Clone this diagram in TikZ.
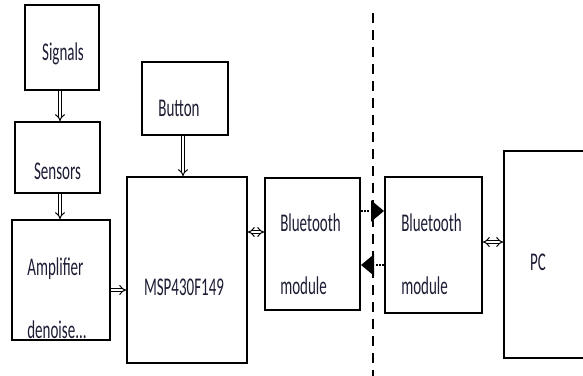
\documentclass[tikz,border=0pt]{standalone}
\usepackage{fontspec}
\setmainfont{Carlito}
\usetikzlibrary{arrows.meta}
\definecolor{txt}{RGB}{28,28,52}
\newcommand{\vs}[1]{\scalebox{1}[1.7]{#1}}
\newcommand{\twol}[2]{\scalebox{1}[1.7]{\begin{tabular}{@{}l@{}}#1\\[19pt]#2\end{tabular}}}
\begin{document}
\begin{tikzpicture}[x=1pt,y=-1pt,
  box/.style={draw=black,line width=2pt,inner sep=0pt},
  lbl/.style={font=\fontsize{15}{18}\selectfont,text=txt,inner sep=0pt},
  dbl/.style={draw=black,double=white,double distance=2.4pt,line width=1pt,-{Implies}},
  dbltwo/.style={draw=black,double=white,double distance=2.4pt,line width=1pt,{Implies}-{Implies}},
  wl/.style={draw=black,line width=2.2pt,dash pattern=on 1.6pt off 1.6pt,-{Triangle[length=13pt,width=21pt]}},
  sep/.style={draw=black,line width=1.6pt,dash pattern=on 10pt off 7pt}]
\useasboundingbox (0,0) rectangle (583,375);
\clip (0,0) rectangle (583,375);
\node[box,minimum width=74pt,minimum height=85pt,label={[lbl,yshift=-6pt,xshift=1pt]center:\vs{Signals}}] (sig) at (62,47.5) {};
\node[box,minimum width=85pt,minimum height=71pt,label={[lbl,yshift=-14pt]center:\vs{Sensors}}] (sen) at (57.5,157.5) {};
\node[box,minimum width=98pt,minimum height=120pt,label={[lbl,yshift=-21pt,xshift=-4pt]center:\twol{Amplifier}{denoise...}}] (amp) at (61,280) {};
\node[box,minimum width=86pt,minimum height=73pt,label={[lbl,yshift=-10pt,xshift=-6pt]center:\vs{Button}}] (btn) at (185,98.5) {};
\node[box,minimum width=120pt,minimum height=186pt,label={[lbl,yshift=-17pt,xshift=-3pt]center:\vs{MSP430F149}}] (msp) at (187,270) {};
\node[box,minimum width=95pt,minimum height=132pt,label={[lbl,yshift=-13pt,xshift=-2pt]center:\twol{Bluetooth}{module}}] (bt1) at (312.5,244) {};
\node[box,minimum width=97pt,minimum height=136pt,label={[lbl,yshift=-12pt,xshift=-2pt]center:\twol{Bluetooth}{module}}] (bt2) at (433.5,245) {};
\node[box,minimum width=86pt,minimum height=207pt,label={[lbl,yshift=-8pt,xshift=-9pt]center:\vs{PC}}] (pc) at (547,254.5) {};
\coordinate (dtop) at (373,13);
\coordinate (dbot) at (373,380);
\draw[sep] (dtop) -- (dbot);
\draw[dbl] ([xshift=-2pt]sig.south) -- ([xshift=-2pt]sig.south |- sen.north);
\draw[dbl] ([xshift=2.5pt]sen.south) -- ([xshift=2.5pt]sen.south |- amp.north);
\draw[dbl] ([xshift=-2pt]btn.south) -- ([xshift=-2pt]btn.south |- msp.north);
\draw[dbl] ([yshift=-10pt]amp.east) -- ([yshift=-10pt]amp.east -| msp.west);
\draw[dbltwo] ([yshift=12pt]bt1.west -| msp.east) -- ([yshift=12pt]bt1.west);
\draw[dbltwo] ([yshift=3pt]bt2.east) -- ([yshift=3pt]bt2.east -| pc.west);
\draw[wl] ([yshift=33pt]bt1.east) -- ([yshift=33pt]bt1.east -| bt2.west);
\draw[wl] ([yshift=-21pt]bt1.east -| bt2.west) -- ([yshift=-21pt]bt1.east);
\end{tikzpicture}
\end{document}
